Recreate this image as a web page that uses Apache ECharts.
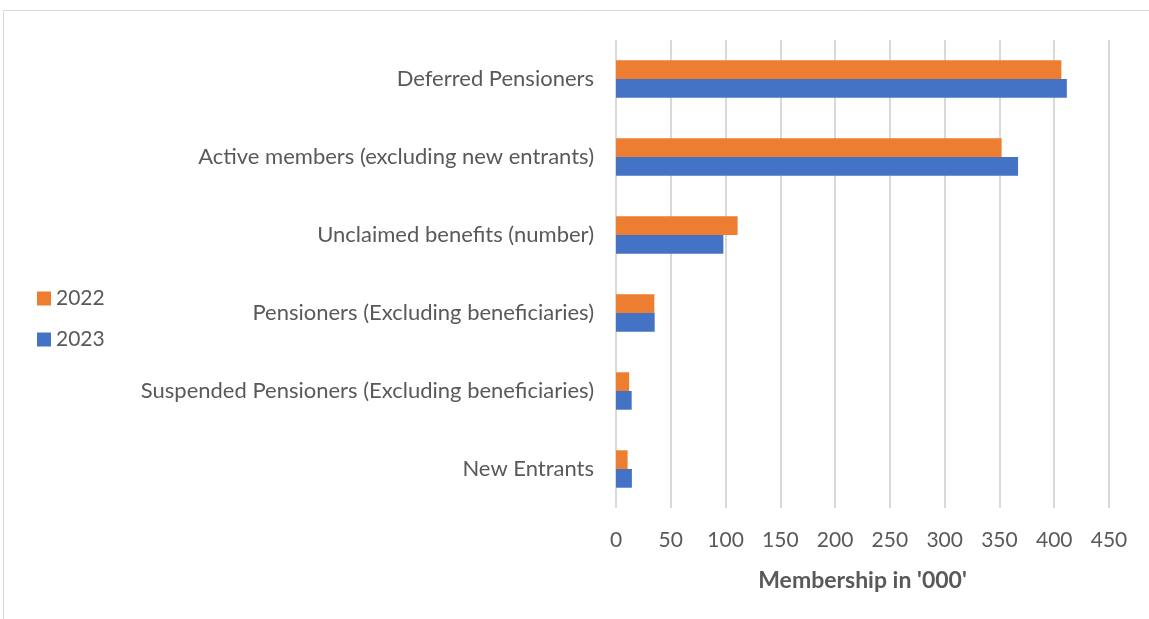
<!DOCTYPE html>
<html>
<head>
<meta charset="utf-8">
<script src="https://cdn.jsdelivr.net/npm/echarts@6/dist/echarts.min.js"></script>
<style>
html,body{margin:0;padding:0;background:#fff;}
#chart{width:1149px;height:619px;}
</style>
</head>
<body>
<div id="chart"></div>
<script>
// Categories listed bottom to top
const categories = [
  "New Entrants",
  "Suspended Pensioners (Excluding beneficiaries)",
  "Pensioners (Excluding beneficiaries)",
  "Unclaimed benefits (number)",
  "Active members (excluding new entrants)",
  "Deferred Pensioners"
];
const values2022 = [10.6, 12, 35, 111, 352, 406.5];
const values2023 = [14.5, 14.3, 35.3, 98, 367, 411.5];
const xTicks = [0, 450, 50];
const axisTitle = "Membership in '000'";

const FONT = "Lato";
const chart = echarts.init(document.getElementById('chart'));
chart.setOption({
  animation: false,
  textStyle: { fontFamily: FONT },
  graphic: [{
    type: 'rect',
    shape: { x: 3.5, y: 10.5, width: 1200, height: 700 },
    style: { fill: 'none', stroke: '#d9d9d9', lineWidth: 1 },
    silent: true
  }],
  legend: {
    orient: 'vertical',
    left: 32,
    top: 283,
    itemWidth: 14,
    itemHeight: 14,
    itemGap: 20,
    icon: 'rect',
    data: ['2022', '2023'],
    textStyle: { fontFamily: FONT, fontSize: 21, color: '#595959' }
  },
  grid: { left: 616, right: 40, top: 40, bottom: 111, containLabel: false },
  xAxis: {
    type: 'value',
    min: xTicks[0], max: xTicks[1], interval: xTicks[2],
    axisLine: { show: false },
    axisTick: { show: false },
    splitLine: { lineStyle: { color: '#d9d9d9', width: 2 } },
    axisLabel: { fontFamily: FONT, fontSize: 21, color: '#595959', margin: 22 },
    name: axisTitle,
    nameLocation: 'middle',
    nameGap: 61,
    nameTextStyle: { fontFamily: FONT, fontSize: 23, fontWeight: 'bold', color: '#595959' }
  },
  yAxis: {
    type: 'category',
    data: categories,
    axisLine: { show: false },
    axisTick: { show: false },
    axisLabel: { fontFamily: FONT, fontSize: 22, color: '#595959', margin: 22 }
  },
  series: [
    { name: '2022', type: 'bar', data: values2022, itemStyle: { color: '#ed7d31' }, barWidth: '24%', barGap: '0%' },
    { name: '2023', type: 'bar', data: values2023, itemStyle: { color: '#4472c4' }, barWidth: '24%', barGap: '0%' }
  ]
});
</script>
</body>
</html>
